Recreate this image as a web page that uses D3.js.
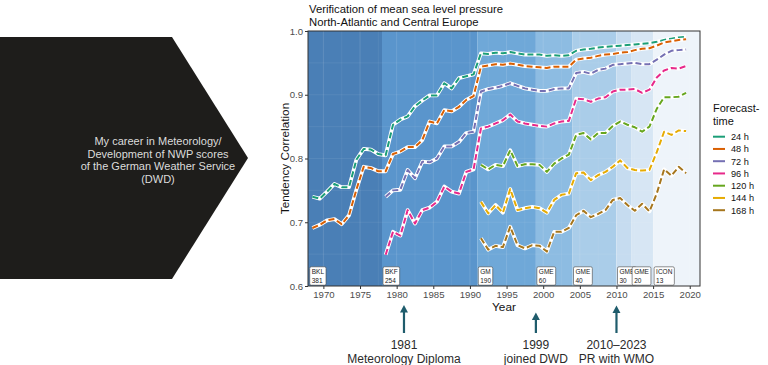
<!DOCTYPE html>
<html>
<head>
<meta charset="utf-8">
<script src="https://cdn.jsdelivr.net/npm/d3@7.9.0/dist/d3.min.js"></script>
<style>
  body { margin: 0; background: #fff; }
  svg { display: block; font-family: "Liberation Sans", Arial, sans-serif; }
</style>
</head>
<body>
<svg id="chart" width="768" height="365"></svg>
<script>
// forecast lead times and the year each score series begins
const leadTimes = ['24 h', '48 h', '72 h', '96 h', '120 h', '144 h', '168 h'];
const startYears = [1968, 1968, 1978, 1978, 1991, 1991, 1991];
const lineColors = ['#1b9e77', '#d95f02', '#7570b3', '#e7298a', '#66a61e', '#e6ab02', '#a6761d'];

// yearly tendency correlation
const s24 = [0.740, 0.737, 0.748, 0.760, 0.755, 0.755, 0.798, 0.815, 0.814, 0.807,
  0.805, 0.853, 0.861, 0.866, 0.882, 0.891, 0.899, 0.899, 0.918, 0.910,
  0.926, 0.929, 0.932, 0.965, 0.964, 0.966, 0.965, 0.967, 0.965, 0.963,
  0.963, 0.963, 0.961, 0.962, 0.961, 0.962, 0.969, 0.971, 0.972, 0.974,
  0.975, 0.976, 0.977, 0.978, 0.979, 0.980, 0.981, 0.983, 0.986, 0.988,
  0.990, 0.991];
const s48 = [0.691, 0.696, 0.703, 0.705, 0.697, 0.711, 0.751, 0.787, 0.785, 0.780,
  0.780, 0.807, 0.811, 0.818, 0.818, 0.829, 0.858, 0.855, 0.876, 0.874,
  0.881, 0.892, 0.898, 0.944, 0.946, 0.948, 0.947, 0.949, 0.947, 0.945,
  0.944, 0.943, 0.942, 0.944, 0.944, 0.944, 0.955, 0.957, 0.958, 0.961,
  0.963, 0.964, 0.966, 0.967, 0.970, 0.972, 0.973, 0.977, 0.982, 0.984,
  0.986, 0.987];
const s72 = [0.740, 0.750, 0.751, 0.782, 0.769, 0.795, 0.794, 0.800, 0.819, 0.819,
  0.826, 0.840, 0.842, 0.905, 0.909, 0.911, 0.914, 0.918, 0.914, 0.910,
  0.908, 0.906, 0.906, 0.909, 0.910, 0.910, 0.934, 0.936, 0.933, 0.939,
  0.941, 0.947, 0.948, 0.949, 0.950, 0.948, 0.948, 0.955, 0.963, 0.969,
  0.970, 0.971];
const s96 = [0.649, 0.685, 0.679, 0.719, 0.698, 0.719, 0.723, 0.732, 0.756, 0.748,
  0.745, 0.779, 0.783, 0.847, 0.850, 0.855, 0.860, 0.869, 0.858, 0.855,
  0.853, 0.851, 0.850, 0.855, 0.858, 0.859, 0.894, 0.893, 0.889, 0.894,
  0.896, 0.905, 0.908, 0.908, 0.909, 0.903, 0.908, 0.927, 0.938, 0.942,
  0.941, 0.945];
const s120 = [0.790, 0.783, 0.790, 0.788, 0.813, 0.788, 0.791, 0.791, 0.790, 0.779,
  0.792, 0.800, 0.806, 0.837, 0.840, 0.830, 0.840, 0.840, 0.851, 0.858,
  0.853, 0.849, 0.842, 0.850, 0.878, 0.896, 0.896, 0.897, 0.903];
const s144 = [0.732, 0.714, 0.727, 0.715, 0.752, 0.719, 0.722, 0.724, 0.722, 0.715,
  0.735, 0.743, 0.745, 0.777, 0.778, 0.766, 0.774, 0.779, 0.787, 0.797,
  0.785, 0.782, 0.781, 0.782, 0.810, 0.842, 0.837, 0.844, 0.843];
const s168 = [0.675, 0.657, 0.663, 0.661, 0.693, 0.664, 0.659, 0.664, 0.663, 0.654,
  0.685, 0.685, 0.691, 0.711, 0.718, 0.708, 0.713, 0.719, 0.735, 0.738,
  0.727, 0.718, 0.729, 0.717, 0.745, 0.783, 0.773, 0.787, 0.777];
const allSeries = [s24, s48, s72, s96, s120, s144, s168];

// model periods shown as background bands
const modelStart = [1968, 1978, 1991, 1999, 2004, 2010, 2012, 2015];
const modelName = ['BKL', 'BKF', 'GM', 'GME', 'GME', 'GME', 'GME', 'ICON'];
const modelRes = ['381', '254', '190', '60', '40', '30', '20', '13'];
const bandColors = ['#4a7fb6', '#5a95cc', '#6fa8d8', '#8dbce2', '#aacde9', '#c6dcf0', '#d7e6f4', '#eef4fa'];

const yTicks = [0.6, 0.7, 0.8, 0.9, 1.0];
const xTicks = [1970, 1975, 1980, 1985, 1990, 1995, 2000, 2005, 2010, 2015, 2020];

// career notes below the axis
const noteYears = [1981, 1999, 2010];
const noteTop = ['1981', '1999', '2010\u20132023'];
const noteBottom = ['Meteorology Diploma', 'joined DWD', 'PR with WMO'];
const noteArrowTop = [305, 312.5, 305.5];

const svg = d3.select('#chart');
const pLeft = 308, pRight = 700, pTop = 31, pBottom = 286;

const x = d3.scaleLinear().domain([1967.9, 2021.4]).range([pLeft, pRight]);
const y = d3.scaleLinear().domain([0.6, 1.0]).range([pBottom, pTop]);

// dark arrow panel on the left
svg.append('polygon')
  .attr('points', '0,37 172,37 248,158 172,279 0,279')
  .attr('fill', '#1e1d1b');

const intro = ['My career in Meteorology/', 'Development of NWP scores',
  'of the German Weather Service', '(DWD)'];
svg.append('g').selectAll('text').data(intro).join('text')
  .attr('x', 158)
  .attr('y', (d, i) => 145 + i * 12.5)
  .attr('text-anchor', 'middle')
  .attr('font-size', 11)
  .attr('fill', '#dcdcdc')
  .text(d => d);

svg.append('clipPath').attr('id', 'panel')
  .append('rect').attr('x', pLeft).attr('y', pTop)
  .attr('width', pRight - pLeft).attr('height', pBottom - pTop);

const panel = svg.append('g').attr('clip-path', 'url(#panel)');

modelStart.forEach((s, i) => {
  const x0 = i === 0 ? x.domain()[0] : s;
  const x1 = i < modelStart.length - 1 ? modelStart[i + 1] : x.domain()[1];
  panel.append('rect')
    .attr('x', x(x0)).attr('y', pTop)
    .attr('width', x(x1) - x(x0)).attr('height', pBottom - pTop)
    .attr('fill', bandColors[i]);
});

// faint grid
const gridX = d3.range(1967.5, 2021, 2.5);
panel.append('g').selectAll('line').data(gridX).join('line')
  .attr('x1', d => x(d)).attr('x2', d => x(d))
  .attr('y1', pTop).attr('y2', pBottom)
  .attr('stroke', '#fff').attr('stroke-opacity', d => (d % 5 === 0 ? 0.12 : 0.06))
  .attr('stroke-width', 1);
panel.append('g').selectAll('line').data(d3.range(0.65, 1.0, 0.05)).join('line')
  .attr('x1', pLeft).attr('x2', pRight)
  .attr('y1', d => y(d)).attr('y2', d => y(d))
  .attr('stroke', '#fff').attr('stroke-opacity', 0.07);

const line = d3.line().x(d => x(d.year + 0.5)).y(d => y(d.value));

allSeries.forEach((vals, k) => {
  const pts = vals.map((v, i) => ({ year: startYears[k] + i, value: v }));
  panel.append('path').datum(pts)
    .attr('d', line).attr('fill', 'none')
    .attr('stroke', '#fff').attr('stroke-width', 3.8)
    .attr('stroke-linejoin', 'round');
  panel.append('path').datum(pts)
    .attr('d', line).attr('fill', 'none')
    .attr('stroke', lineColors[k]).attr('stroke-width', 2)
    .attr('stroke-dasharray', '6,3')
    .attr('stroke-linejoin', 'round');
});

// model labels
modelStart.forEach((s, i) => {
  const bx = Math.max(x(s), pLeft) + 1;
  const g = svg.append('g');
  const box = g.append('rect')
    .attr('y', 266.8).attr('height', 18.4)
    .attr('rx', 1.5)
    .attr('fill', '#fff').attr('stroke', '#444').attr('stroke-width', 0.6);
  const t1 = g.append('text').attr('x', bx + 2).attr('y', 274.3)
    .attr('font-size', 6.5).attr('fill', '#222').text(modelName[i]);
  g.append('text').attr('x', bx + 2).attr('y', 283.2)
    .attr('font-size', 6.5).attr('fill', '#222').text(modelRes[i]);
  const w = t1.node().getComputedTextLength();
  box.attr('x', bx).attr('width', w + 4);
});

svg.append('rect')
  .attr('x', pLeft).attr('y', pTop)
  .attr('width', pRight - pLeft).attr('height', pBottom - pTop)
  .attr('fill', 'none').attr('stroke', '#333').attr('stroke-width', 1);

// axes
const xAxis = svg.append('g').attr('transform', `translate(0,${pBottom})`)
  .call(d3.axisBottom(x).tickValues(xTicks).tickFormat(d3.format('d')).tickSize(3).tickPadding(2));
const yAxis = svg.append('g').attr('transform', `translate(${pLeft},0)`)
  .call(d3.axisLeft(y).tickValues(yTicks).tickFormat(d3.format('.1f')).tickSize(3).tickPadding(2));
[xAxis, yAxis].forEach(a => {
  a.select('.domain').remove();
  a.selectAll('.tick line').attr('stroke', '#333');
  a.selectAll('.tick text').attr('fill', '#4d4d4d')
    .attr('font-size', 9.6).attr('font-family', '"Liberation Sans", Arial, sans-serif');
});

svg.append('text')
  .attr('x', (pLeft + pRight) / 2).attr('y', 311)
  .attr('text-anchor', 'middle').attr('font-size', 11.8).attr('fill', '#111')
  .text('Year');
svg.append('text')
  .attr('transform', `translate(289,${(pTop + pBottom) / 2}) rotate(-90)`)
  .attr('text-anchor', 'middle').attr('font-size', 11.8).attr('fill', '#111')
  .text('Tendency Correlation');

svg.append('text').attr('x', 309).attr('y', 13).attr('font-size', 11.3).attr('fill', '#111')
  .text('Verification of mean sea level pressure');
svg.append('text').attr('x', 309).attr('y', 26).attr('font-size', 11.3).attr('fill', '#111')
  .text('North-Atlantic and Central Europe');

// legend
const legend = svg.append('g').attr('transform', 'translate(713,0)');
legend.append('text').attr('x', 0).attr('y', 112).attr('font-size', 11).attr('fill', '#111').text('Forecast-');
legend.append('text').attr('x', 0).attr('y', 124.5).attr('font-size', 11).attr('fill', '#111').text('time');
leadTimes.forEach((lt, i) => {
  const ly = 136.7 + i * 12.25;
  legend.append('line').attr('x1', 0).attr('x2', 12).attr('y1', ly).attr('y2', ly)
    .attr('stroke', lineColors[i]).attr('stroke-width', 2);
  legend.append('text').attr('x', 18).attr('y', ly + 3.3)
    .attr('font-size', 9.2).attr('fill', '#111').text(lt);
});

// career arrows
noteYears.forEach((yr, i) => {
  const ax = x(yr), tip = noteArrowTop[i];
  svg.append('line')
    .attr('x1', ax).attr('x2', ax)
    .attr('y1', 333).attr('y2', tip + 5)
    .attr('stroke', '#1f5c6c').attr('stroke-width', 2.2);
  svg.append('path')
    .attr('d', `M${ax},${tip} L${ax + 4},${tip + 7.5} L${ax - 4},${tip + 7.5} Z`)
    .attr('fill', '#1f5c6c');
  svg.append('text').attr('x', ax).attr('y', 348.5)
    .attr('text-anchor', 'middle').attr('font-size', 12).attr('fill', '#2a2a2a')
    .text(noteTop[i]);
  svg.append('text').attr('x', ax).attr('y', 362.5)
    .attr('text-anchor', 'middle').attr('font-size', 12).attr('fill', '#2a2a2a')
    .text(noteBottom[i]);
});
</script>
</body>
</html>
